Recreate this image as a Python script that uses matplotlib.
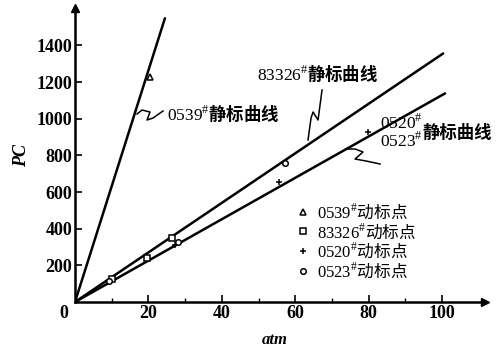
import numpy as np
import matplotlib.pyplot as plt

plt.rcParams['font.family'] = ['Liberation Serif', 'Noto Sans CJK SC', 'DejaVu Sans']
plt.rcParams['mathtext.fontset'] = 'custom'
plt.rcParams['mathtext.rm'] = 'Liberation Serif'
plt.rcParams['mathtext.bf'] = 'Liberation Serif:bold'

CJK = 'Noto Sans CJK SC'

# static calibration lines (end points, all start at origin)
line_names = ['0539', '83326', '0520/0523']
line_end_atm = [24.5, 100.3, 100.8]
line_end_p = [1548, 1356, 1138]

# dynamic calibration points
tri_atm = [20.4]
tri_p = [1230]
sq_atm = [10.0, 19.6, 26.4]
sq_p = [128, 240, 349]
plus_atm = [27.3, 55.6, 79.8]
plus_p = [312, 654, 926]
circ_atm = [9.3, 28.0, 57.2]
circ_p = [116, 327, 757]

x_ticks = [20, 40, 60, 80, 100]
y_ticks = [200, 400, 600, 800, 1000, 1200, 1400]

fig = plt.figure(figsize=(4.97, 3.47), dpi=100)
ax = fig.add_axes([75 / 497, 45 / 347, 410 / 497, 294 / 347])
ax.set_xlim(0, 111.7)
ax.set_ylim(0, 1604)

for xe, ye in zip(line_end_atm, line_end_p):
    ax.plot([0, xe], [0, ye], color='black', lw=1.8, solid_capstyle='round')

ms = dict(color='black', linestyle='none', markerfacecolor='white', markeredgewidth=1.1)
ax.plot(tri_atm, tri_p, marker='^', markersize=4.5, label=r'$\mathrm{0539}^{\#}$动标点', **ms)
ax.plot(sq_atm, sq_p, marker='s', markersize=4, label=r'$\mathrm{83326}^{\#}$动标点', **ms)
ax.plot(plus_atm, plus_p, marker='+', markersize=5, label=r'$\mathrm{0520}^{\#}$动标点', **ms)
ax.plot(circ_atm, circ_p, marker='o', markersize=4, label=r'$\mathrm{0523}^{\#}$动标点', **ms)

for s in ['top', 'right']:
    ax.spines[s].set_visible(False)
for s in ['left', 'bottom']:
    ax.spines[s].set_linewidth(1.8)
ax.plot(1, 0, '>k', markersize=6, transform=ax.transAxes, clip_on=False)
ax.plot(0, 1, '^k', markersize=6, transform=ax.transAxes, clip_on=False)

ax.set_xticks(x_ticks)
ax.set_xticks([10, 30, 50, 70, 90], minor=True)
ax.set_yticks(y_ticks)
ax.tick_params(axis='both', which='major', direction='in', length=5, width=1.2,
               labelsize=13, pad=2)
ax.tick_params(axis='x', which='minor', direction='in', length=3, width=1.0)
for lab in ax.get_xticklabels() + ax.get_yticklabels():
    lab.set_fontweight('bold')
ax.text(-3, -18, '0', ha='center', va='top', fontsize=13, fontweight='bold')

ax.text(-14.5, 800, 'PC', rotation=90, ha='center', va='center',
        fontsize=13, fontweight='bold', style='italic')
ax.text(54.5, -205, 'atm', ha='center', va='center',
        fontsize=12, fontweight='bold', style='italic')

# leaders with squiggles
def squiggle(px, py):
    xs = [(p - 75) / 3.67 for p in px]
    ys = [(302 - p) / 0.1833 for p in py]
    ax.plot(xs, ys, color='black', lw=1.1)

squiggle([137, 142, 150, 147, 153, 163], [114, 110, 112, 120, 118, 111])
squiggle([308, 311, 313, 318, 322], [140, 118, 112, 120, 90])
squiggle([346, 355, 363, 355, 366, 380], [149, 149, 152, 159, 161, 164])

fs = dict(fontsize=12.5, fontweight='bold', va='center', ha='left', family=CJK)
ax.text((167 - 75) / 3.67, (302 - 114) / 0.1833, r'$\mathrm{0539}^{\#}$静标曲线', **fs)
ax.text((257 - 75) / 3.67, (302 - 74) / 0.1833, r'$\mathrm{83326}^{\#}$静标曲线', **fs)
ax.text((380 - 75) / 3.67, (302 - 132) / 0.1833,
        '$\\mathrm{0520}^{\\#}$\n$\\mathrm{0523}^{\\#}$', linespacing=0.9, **fs)
ax.text((422 - 75) / 3.67, (302 - 133) / 0.1833, '静标曲线', **fs)

leg = ax.legend(loc='upper left', bbox_to_anchor=((297 - 75) / 410, (302 - 202) / 294),
                frameon=False, prop={'family': CJK, 'size': 12}, handlelength=0.7,
                handletextpad=0.5, labelspacing=0.0, borderaxespad=0, borderpad=0)

fig.savefig('out.png', dpi=100)
